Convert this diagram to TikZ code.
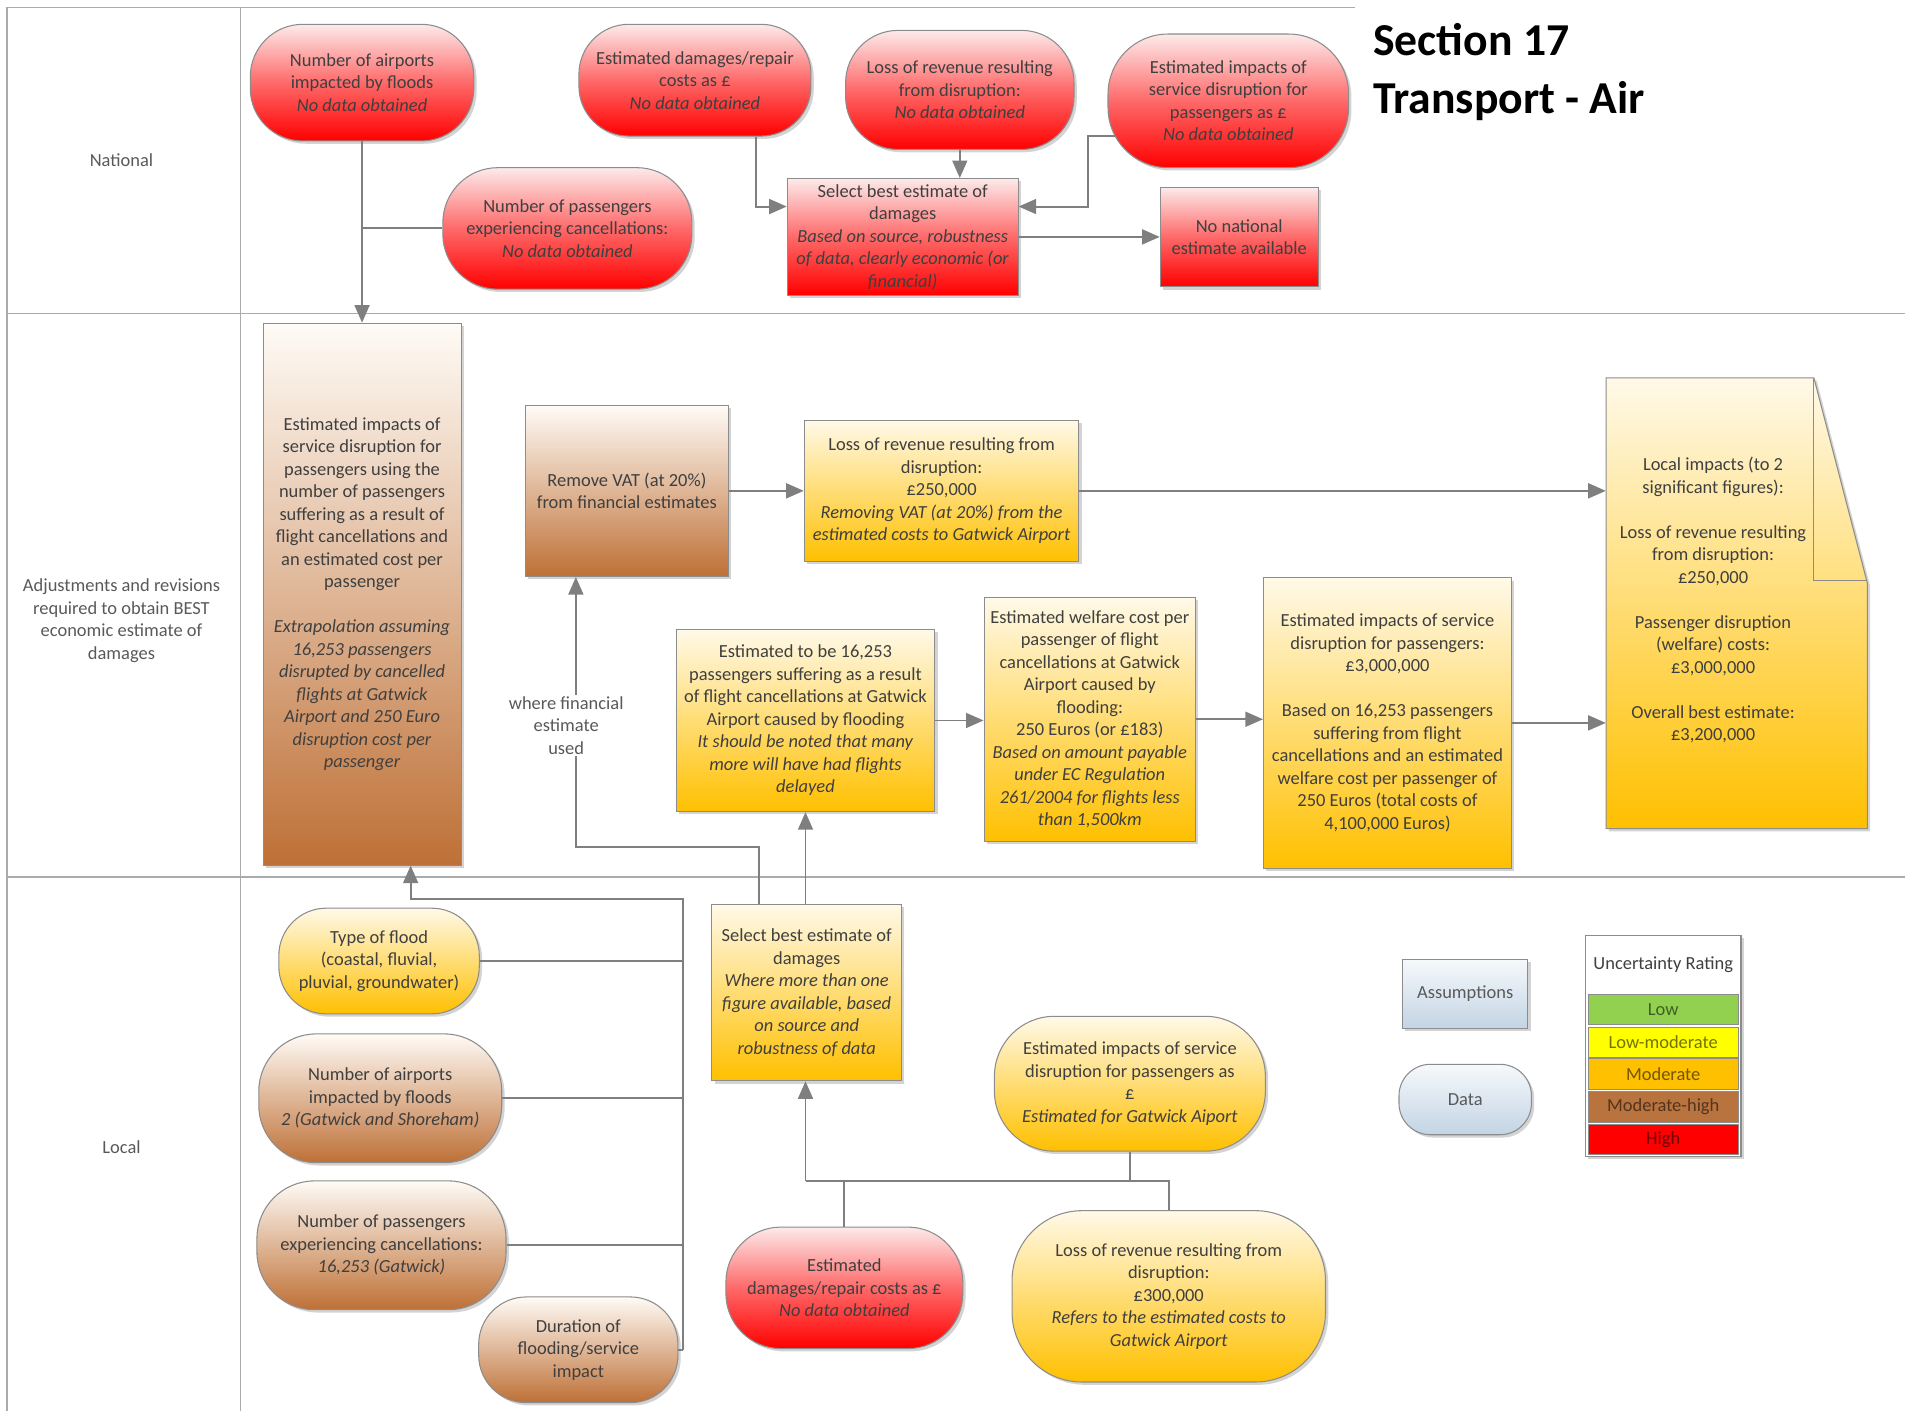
\documentclass[tikz,border=0pt]{standalone}
\usepackage{fontspec}
\setmainfont{Carlito}
\usepackage{tikz}
\usetikzlibrary{arrows,arrows.meta,shapes,shadows,calc,positioning}
\newcommand{\unitpx}{0.243mm}
\definecolor{lanegray}{HTML}{ABABAB}
\definecolor{linegray}{HTML}{7F7F7F}
\definecolor{boxgray}{HTML}{8C8C8C}
\definecolor{txtgray}{HTML}{3F3F3F}
\definecolor{lanetxt}{HTML}{595959}
\definecolor{hired}{HTML}{FF0000}
\definecolor{redtop}{HTML}{FDEAEA}
\definecolor{browntop}{HTML}{FFFBF6}
\definecolor{brownbot}{HTML}{BE7036}
\definecolor{goldtop}{HTML}{FFF9E8}
\definecolor{goldbot}{HTML}{FFC000}
\definecolor{bluetop}{HTML}{F6F9FC}
\definecolor{bluebot}{HTML}{C3D4E4}
\definecolor{lowgreen}{HTML}{92D050}
\definecolor{lowmod}{HTML}{FFFF00}
\definecolor{moder}{HTML}{FFC000}
\definecolor{modhigh}{HTML}{B8733F}
\definecolor{highred}{HTML}{FF0000}
\tikzstyle{conn}  =[draw=linegray, line width=1.1pt,
                    >={Triangle[length=10pt,width=8.5pt]}]
\tikzstyle{lane}  =[draw=lanegray, line width=0.9pt]
\tikzstyle{box}   =[rectangle, draw=boxgray, line width=0.6pt,
                    align=center, inner sep=1.5pt,
                    drop shadow={shadow xshift=1.6pt, shadow yshift=-1.6pt, opacity=0.35}]
\tikzstyle{pill}  =[box, rounded corners=10mm]
\tikzstyle{redfill}  =[top color=redtop, bottom color=hired, middle color=hired!55!redtop]
\tikzstyle{brownfill}=[top color=browntop, bottom color=brownbot]
\tikzstyle{goldfill} =[top color=goldtop, bottom color=goldbot]
\tikzstyle{bluefill} =[top color=bluetop, bottom color=bluebot]
\tikzstyle{lanelbl}  =[align=center, text=lanetxt]
\tikzset{dims/.style 2 args={minimum width=#1*\unitpx, minimum height=#2*\unitpx}}
\begin{document}
\begin{tikzpicture}[x=\unitpx, y=-\unitpx,
        every node/.style={font=\fontsize{10.5}{12.8}\selectfont, text=txtgray}]
        \useasboundingbox (0,0) rectangle (1568,1161);

        \draw[lane] (1115,6) -- (6,6) -- (6,1161);
        \draw[lane] (198,6) -- (198,1161);
        \draw[lane] (6,258) -- (1568,258);
        \draw[lane] (6,722) -- (1568,722);

        \node[lanelbl] (lnat) at (100,132) {National};
        \node[lanelbl] (ladj) at (100,511) {Adjustments and revisions\\required to obtain BEST\\economic estimate of\\damages};
        \node[lanelbl] (lloc) at (100,944) {Local};
        \node[anchor=north west, inner sep=0pt, align=left, text=black,
              font=\fontsize{26}{33}\selectfont\bfseries] (title) at (1130,19) {Section 17\\Transport - Air};

        \node[pill, redfill, dims={184}{96}, rounded corners=10.5mm] (nat1) at (298,68) {Number of airports\\impacted by floods\\\textit{No data obtained}};
        \node[pill, redfill, dims={191}{92}, rounded corners=10mm] (nat2) at (572,66) {Estimated damages/repair\\costs as £\\\textit{No data obtained}};
        \node[pill, redfill, dims={188}{98}, rounded corners=10.5mm] (nat3) at (790,74) {Loss of revenue resulting\\from disruption:\\\textit{No data obtained}};
        \node[pill, redfill, dims={198}{110}, rounded corners=12mm] (nat4) at (1011,83) {Estimated impacts of\\service disruption for\\passengers as £\\\textit{No data obtained}};
        \node[pill, redfill, dims={205}{100}, rounded corners=11mm] (nat5) at (467,188) {Number of passengers\\experiencing cancellations:\\\textit{No data obtained}};
        \node[box, redfill, dims={190}{96}] (nat6) at (743,195) {Select best estimate of\\damages\\\textit{Based on source, robustness}\\\textit{of data, clearly economic (or}\\\textit{financial)}};
        \node[box, redfill, dims={130}{82}] (nat7) at (1020,195) {No national\\estimate available};

        \node[box, brownfill, dims={163}{446}] (adj1) at (298,489) {Estimated impacts of\\service disruption for\\passengers using the\\number of passengers\\suffering as a result of\\flight cancellations and\\an estimated cost per\\passenger\\[12.8pt]\textit{Extrapolation assuming}\\\textit{16,253 passengers}\\\textit{disrupted by cancelled}\\\textit{flights at Gatwick}\\\textit{Airport and 250 Euro}\\\textit{disruption cost per}\\\textit{passenger}};
        \node[box, brownfill, dims={167}{141}] (adj2) at (516,404) {Remove VAT (at 20\%)\\from financial estimates};
        \node[box, goldfill, dims={226}{116}] (adj3) at (775,404) {Loss of revenue resulting from\\disruption:\\£250,000\\\textit{Removing VAT (at 20\%) from the}\\\textit{estimated costs to Gatwick Airport}};
        \node[box, goldfill, dims={213}{150}] (adj4) at (663,593) {Estimated to be 16,253\\passengers suffering as a result\\of flight cancellations at Gatwick\\Airport caused by flooding\\\textit{It should be noted that many}\\\textit{more will have had flights}\\\textit{delayed}};
        \node[box, goldfill, dims={174}{201}] (adj5) at (897,592) {Estimated welfare cost per\\passenger of flight\\cancellations at Gatwick\\Airport caused by\\flooding:\\250 Euros (or £183)\\\textit{Based on amount payable}\\\textit{under EC Regulation}\\\textit{261/2004 for flights less}\\\textit{than 1,500km}};
        \node[box, goldfill, dims={204}{239}] (adj6) at (1142,595) {Estimated impacts of service\\disruption for passengers:\\£3,000,000\\[12.8pt]Based on 16,253 passengers\\suffering from flight\\cancellations and an estimated\\welfare cost per passenger of\\250 Euros (total costs of\\4,100,000 Euros)};

        \path[goldfill, draw=boxgray, line width=0.6pt,
              drop shadow={shadow xshift=1.6pt, shadow yshift=-1.6pt, opacity=0.35}]
            (1322,311) -- (1493,311) -- (1537,480) -- (1537,682) -- (1322,682) -- cycle;
        \draw[draw=boxgray, line width=0.6pt] (1493,311) -- (1493,478) -- (1537,478);
        \node[dims={215}{371}, inner sep=0pt] (adj7) at (1429.5,496.5) {};
        \node[align=center] (adj7txt) at (1410,494) {Local impacts (to 2\\significant figures):\\[12.8pt]Loss of revenue resulting\\from disruption:\\£250,000\\[12.8pt]Passenger disruption\\(welfare) costs:\\£3,000,000\\[12.8pt]Overall best estimate:\\£3,200,000};

        \node[pill, goldfill, dims={165}{87}, rounded corners=9.5mm] (loc1) at (312,791) {Type of flood\\(coastal, fluvial,\\pluvial, groundwater)};
        \node[pill, brownfill, dims={200}{106}, rounded corners=11.5mm] (loc2) at (313,904) {Number of airports\\impacted by floods\\\textit{2 (Gatwick and Shoreham)}};
        \node[pill, brownfill, dims={205}{106}, rounded corners=11.5mm] (loc3) at (314,1025) {Number of passengers\\experiencing cancellations:\\\textit{16,253 (Gatwick)}};
        \node[pill, brownfill, dims={164}{87}, rounded corners=9.5mm] (loc4) at (476,1111) {Duration of\\flooding/service\\impact};
        \node[box, goldfill, dims={156}{145}] (loc5) at (664,817) {Select best estimate of\\damages\\\textit{Where more than one}\\\textit{figure available, based}\\\textit{on source and}\\\textit{robustness of data}};
        \node[pill, goldfill, dims={223}{111}, rounded corners=12mm] (loc6) at (930,892) {Estimated impacts of service\\disruption for passengers as\\£\\\textit{Estimated for Gatwick Aiport}};
        \node[pill, redfill, dims={195}{100}, rounded corners=11mm] (loc7) at (695,1060) {Estimated\\damages/repair costs as £\\\textit{No data obtained}};
        \node[pill, goldfill, dims={258}{141}, rounded corners=14mm] (loc8) at (962,1067) {Loss of revenue resulting from\\disruption:\\£300,000\\\textit{Refers to the estimated costs to}\\\textit{Gatwick Airport}};

        \node[box, bluefill, dims={103}{57}, text=lanetxt] (keyasm) at (1206,818) {Assumptions};
        \node[pill, bluefill, dims={109}{58}, rounded corners=6.3mm, text=lanetxt] (keydat) at (1206,905) {Data};
        \node[box, fill=white, dims={128}{182}] (keytab) at (1369,861) {};
        \node (keyhd) at (1369,794) {Uncertainty Rating};
        \foreach \lab/\col/\yy [count=\i] in {Low/lowgreen/831, Low-moderate/lowmod/858,
                Moderate/moder/884, Moderate-high/modhigh/911, High/highred/938}
            \node[fill=\col, draw=black!45, line width=0.4pt, dims={123}{25}, inner sep=0pt,
                  text=\col!45!black] (key\i) at (1369,\yy) {\lab};

        \draw[conn,->] (nat1.south) -- (adj1.north);
        \draw[conn] (nat5.west) -- (nat5.west -| nat1.south);
        \draw[conn,->] ([xshift=50*\unitpx]nat2.south) |- ([yshift=25*\unitpx]nat6.west);
        \draw[conn,->] (nat3.south) -- (nat3.south |- nat6.north);
        \draw[conn,->] ([xshift=6*\unitpx, yshift=-29*\unitpx]nat4.west) -- ++(-22,0) |- ([yshift=25*\unitpx]nat6.east);
        \draw[conn,->] (nat6.east) -- (nat7.west);

        \draw[conn,->] (adj2.east) -- (adj3.west);
        \draw[conn,->] (adj3.east) -- (adj3.east -| adj7.west);
        \draw[conn,->] (adj4.east) -- (adj4.east -| adj5.west);
        \draw[conn,->] (adj5.east) -- (adj5.east -| adj6.west);
        \draw[conn,->] (adj6.east) -- (adj6.east -| adj7.west);

        \coordinate (busT) at (562,740);
        \draw[conn,->] (loc4.east -| busT) -- (busT) -| ([xshift=40*\unitpx]adj1.south);
        \foreach \n in {1,...,4}
            \draw[conn] (loc\n.east) -- (loc\n.east -| busT);
        \coordinate (vatT) at (625,697);
        \draw[conn,->] (loc5.north -| vatT) -- (vatT) -| ([xshift=-42*\unitpx]adj2.south);
        \draw[conn,->] (loc5.north -| adj4.south) -- (adj4.south);
        \coordinate (lbus) at (663,972);
        \draw[conn] (loc8.north) |- (lbus);
        \draw[conn,->] (lbus) -- (lbus |- loc5.south);
        \draw[conn] (loc7.north) -- (loc7.north |- lbus);
        \draw[conn] (loc6.south) -- (loc6.south |- lbus);

        \node[lanelbl, fill=white, inner sep=1pt] (wfe) at (466,597) {where financial\\estimate\\used};
\end{tikzpicture}
\end{document}
